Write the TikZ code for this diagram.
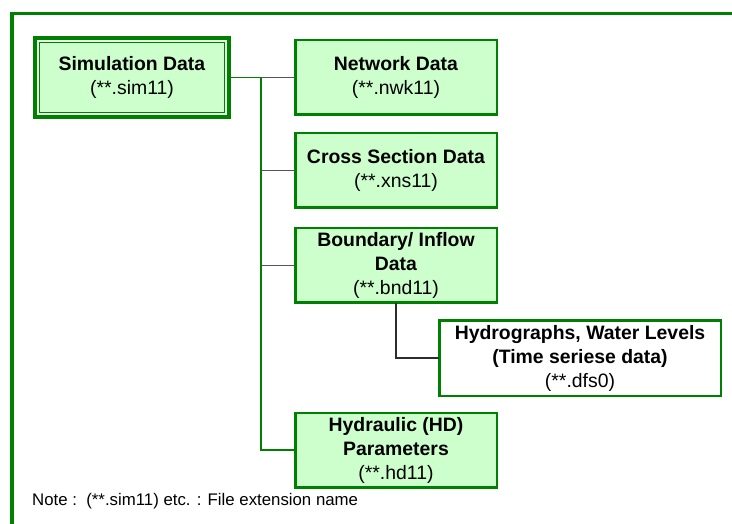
\documentclass[tikz,border=0pt]{standalone}
\usepackage{fontspec}
\setmainfont{Liberation Sans}
\definecolor{dgreen}{RGB}{0,128,0}
\definecolor{lgreen}{RGB}{204,255,204}
\definecolor{linkgray}{RGB}{85,85,85}
\definecolor{linkdark}{RGB}{45,45,45}
\tikzset{
  databox/.style={draw=dgreen, line width=2.5pt, fill=lgreen, inner sep=0pt, outer sep=0pt,
    minimum width=201.5pt, minimum height=74.5pt, align=center,
    font=\fontsize{19.4}{24}\selectfont},
  mainbox/.style={draw=dgreen, line width=4pt, fill=lgreen, inner sep=0pt, outer sep=0pt,
    minimum width=194pt, minimum height=79pt, align=center,
    font=\fontsize{19.4}{24}\selectfont},
  subbox/.style={databox, fill=white, minimum width=281.5pt, minimum height=75.5pt},
  greenlink/.style={draw=dgreen, line width=1.6pt},
  graylink/.style={draw=linkgray, line width=1.6pt},
  darklink/.style={draw=linkdark, line width=1.4pt},
  frameline/.style={draw=dgreen, line width=3.5pt}
}
\begin{document}
\begin{tikzpicture}[x=1pt, y=-1pt]
\useasboundingbox (0,0) rectangle (732,524);

% outer frame (top and left sides only)
\draw[frameline] (12,530) -- (12,13.5) -- (740,13.5);

% main file, with a double border
\node[mainbox] (sim) at (132,77.5) {\textbf{Simulation Data}\\{\mdseries(**.sim11)}};
\draw[draw=white!55!lgreen, line width=1.6pt]
  ([shift={(2.9,2.9)}]sim.north west) rectangle ([shift={(-2.9,-2.9)}]sim.south east);
\draw[draw=dgreen, line width=1.5pt]
  ([shift={(4.5,4.5)}]sim.north west) rectangle ([shift={(-4.5,-4.5)}]sim.south east);

% referenced data files
\node[databox] (nwk) at (396,77.5)  {\textbf{Network Data}\\(**.nwk11)};
\node[databox] (xns) at (396,170.5) {\textbf{Cross Section Data}\\(**.xns11)};
\node[databox] (bnd) at (396,265.5) {\textbf{Boundary/ Inflow}\\\textbf{Data}\\(**.bnd11)};
\node[databox] (hd)  at (396,450)   {\textbf{Hydraulic (HD)}\\\textbf{Parameters}\\(**.hd11)};
\node[subbox]  (dfs) at (580,358)   {\textbf{Hydrographs, Water Levels}\\\textbf{(Time seriese data)}\\(**.dfs0)};

% tree connectors
\coordinate (trunktop) at (261,77.5);
\coordinate (trunkbot) at (261,450);
\draw[greenlink] (sim.east) -- (trunktop);
\draw[greenlink] (trunktop) -- (trunkbot) -- (hd.west);
\draw[graylink] (trunktop) -- (nwk.west);
\draw[graylink] (trunktop |- xns.west) -- (xns.west);
\draw[graylink] (trunktop |- bnd.west) -- (bnd.west);
\draw[darklink] (bnd.south) |- (dfs.west);

% note
\node[anchor=base west, inner sep=0pt, font=\fontsize{16.8}{20}\selectfont] (note) at (32,505)
  {Note :\ \ (**.sim11) etc. : File extension name};
\end{tikzpicture}
\end{document}
